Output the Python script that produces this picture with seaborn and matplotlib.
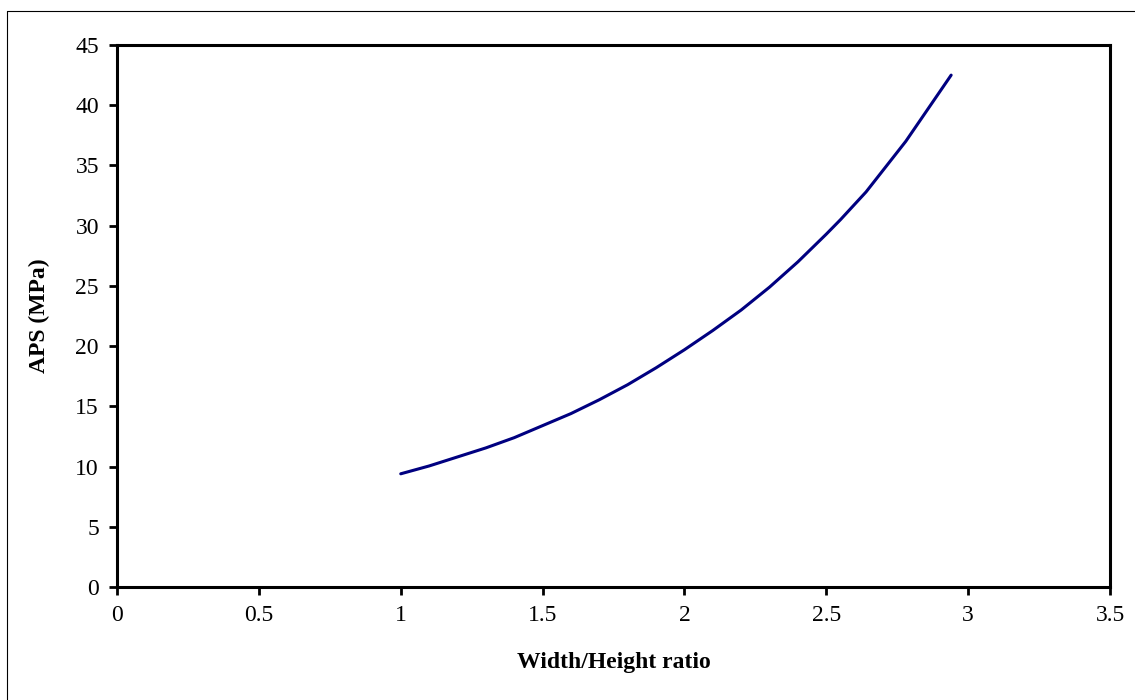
import matplotlib
matplotlib.use("Agg")
import matplotlib.pyplot as plt
from matplotlib.lines import Line2D
import seaborn as sns
import pandas as pd

# Average pressure (APS) versus the width/height ratio
ratio = [1.0, 1.1, 1.2, 1.3, 1.4, 1.5, 1.6, 1.7, 1.8, 1.9, 2.0, 2.1, 2.2,
         2.3, 2.4, 2.5, 2.55, 2.64, 2.78, 2.94]
aps_mpa = [9.4, 10.05, 10.8, 11.55, 12.4, 13.4, 14.4, 15.55, 16.8, 18.2,
           19.7, 21.3, 23.0, 24.9, 27.0, 29.3, 30.5, 32.8, 37.0, 42.5]

x_ticks = [0, 0.5, 1, 1.5, 2, 2.5, 3, 3.5]
x_tick_labels = ["0", "0.5", "1", "1.5", "2", "2.5", "3", "3.5"]
y_ticks = [0, 5, 10, 15, 20, 25, 30, 35, 40, 45]

df = pd.DataFrame({"ratio": ratio, "aps": aps_mpa})

sns.set_theme(style="white")
plt.rcParams["font.family"] = ["Liberation Serif", "DejaVu Serif"]

fig = plt.figure(figsize=(11.35, 7.0), dpi=100)
ax = fig.add_axes([0.1031, 0.1614, 0.8749, 0.7743])

sns.lineplot(data=df, x="ratio", y="aps", ax=ax, color="#000080",
             linewidth=2.2, sort=False)

ax.set_xlim(0, 3.5)
ax.set_ylim(0, 45)
ax.set_xticks(x_ticks)
ax.set_xticklabels(x_tick_labels)
ax.set_yticks(y_ticks)
ax.tick_params(axis="both", direction="out", length=6, width=2,
               color="black", labelsize=17, labelcolor="black", pad=7,
               bottom=True, left=True)
for side in ["left", "right", "top", "bottom"]:
    ax.spines[side].set_visible(True)
    ax.spines[side].set_color("black")
    ax.spines[side].set_linewidth(2.2)

ax.set_xlabel("Width/Height ratio", fontsize=17, fontweight="bold",
              color="black", labelpad=19)
ax.set_ylabel("APS (MPa)", fontsize=17, fontweight="bold",
              color="black", labelpad=18)
ax.grid(False)

# Chart-area frame (left and top edges)
fig.add_artist(Line2D([7 / 1135, 7 / 1135], [0, 1 - 11 / 700],
                      transform=fig.transFigure, color="black", linewidth=0.8))
fig.add_artist(Line2D([7 / 1135, 1], [1 - 11 / 700, 1 - 11 / 700],
                      transform=fig.transFigure, color="black", linewidth=0.8))

fig.savefig("out.png", dpi=100)
